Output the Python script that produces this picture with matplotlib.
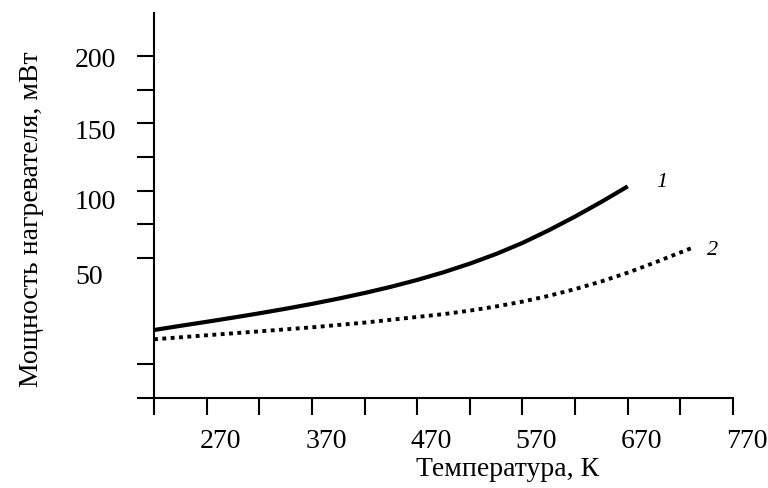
import numpy as np
import matplotlib
matplotlib.use("Agg")
import matplotlib.pyplot as plt
from matplotlib import transforms

plt.rcParams['font.family'] = ['Liberation Serif', 'DejaVu Serif']

# кривая 1 (сплошная) и кривая 2 (пунктир)
temp_1 = [220, 245, 270, 295, 320, 345, 370, 395, 420, 445, 470, 495, 520, 545, 570,
          595, 620, 645, 670]
power_1 = [-3.5, -0.4, 2.6, 5.7, 8.9, 12.3, 15.9, 19.8, 24.0, 28.6, 33.7, 39.4, 45.8,
           53.0, 61.2, 70.6, 80.8, 91.7, 103.2]
temp_2 = [220, 270, 320, 370, 420, 470, 495, 520, 545, 570, 595, 620, 645, 670, 695, 730]
power_2 = [-10.4, -7.4, -4.5, -1.5, 2.0, 6.2, 8.3, 10.9, 14.0, 17.6, 21.9, 26.9, 32.6,
           39.1, 46.4, 57.2]

x_ticks = [220, 270, 320, 370, 420, 470, 520, 570, 620, 670, 720, 770]
x_labels = [270, 370, 470, 570, 670, 770]
y_ticks = [-54, -29, 50, 75, 100, 125, 150, 175, 200]
y_labels = [50, 100, 150, 200]
y_label_shift = [19, 12, 9, 4]   # px, подписи чуть ниже рисок

fig = plt.figure(figsize=(7.68, 4.88), dpi=100)
ax = fig.add_axes([154 / 768, 90 / 488, 579 / 768, 385 / 488])

ax.plot(temp_1, power_1, color='black', lw=3.0, solid_capstyle='butt', solid_joinstyle='round')
ax.plot(temp_2, power_2, color='black', lw=2.8, linestyle=(0, (1, 1.15)))

ax.text(temp_1[-1] + 32, power_1[-1] + 3, '1', fontsize=16, style='italic', ha='center', va='center')
ax.text(temp_2[-1] + 21, power_2[-1] - 1.5, '2', fontsize=16, style='italic', ha='center', va='center')

ax.set_xlim(220, 770)
ax.set_ylim(-54, 232)
for s in ['top', 'right']:
    ax.spines[s].set_visible(False)
for s in ['left', 'bottom']:
    ax.spines[s].set_linewidth(1.5)

ax.set_xticks(x_ticks)
ax.set_yticks(y_ticks)
ax.set_xticklabels([])
ax.set_yticklabels([])
ax.tick_params(direction='out', length=12.2, width=1.5)

# подписи делений
xt = ax.get_xaxis_transform() + transforms.ScaledTranslation(14 / 100, -31 / 100, fig.dpi_scale_trans)
for v in x_labels:
    ax.text(v, 0, str(v), transform=xt, fontsize=20, ha='center', va='top')

yt = transforms.blended_transform_factory(fig.transFigure, ax.transData)
for v, dy in zip(y_labels, y_label_shift):
    ax.text(75 / 768, v, str(v), fontsize=20, ha='left', va='center',
            transform=yt + transforms.ScaledTranslation(0, -dy / 100, fig.dpi_scale_trans))

ax.set_xlabel('Температура, К', fontsize=20, va='top')
ax.xaxis.set_label_coords(0.611, -0.153)
ax.set_ylabel('Мощность нагревателя, мВт', fontsize=20)
ax.yaxis.set_label_coords(-0.19, 0.465)

fig.savefig('out.png', dpi=100)
